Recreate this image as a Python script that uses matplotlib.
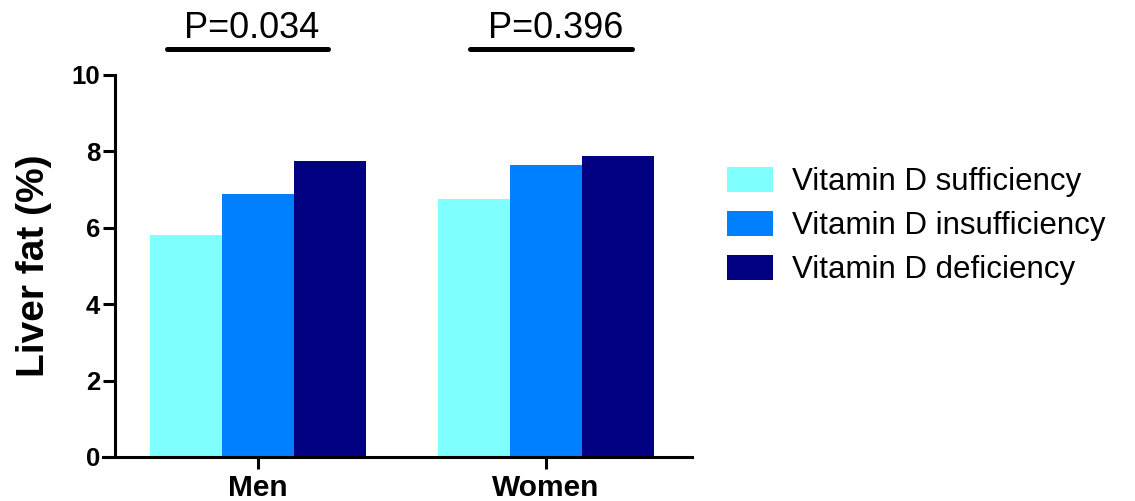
import matplotlib
matplotlib.use("Agg")
import matplotlib.pyplot as plt
import numpy as np
from matplotlib.patches import Patch

plt.rcParams['font.family'] = ['Liberation Sans', 'DejaVu Sans']

groups = ["Men", "Women"]
series = ["Vitamin D sufficiency", "Vitamin D insufficiency", "Vitamin D deficiency"]
sufficiency = [5.81, 6.75]
insufficiency = [6.88, 7.64]
deficiency = [7.76, 7.87]
p_values = ["P=0.034", "P=0.396"]
colors = ["#80FFFF", "#0080FF", "#000080"]

fig = plt.figure(figsize=(11.35, 5.01), dpi=100)
W, H = 1135, 501
ax = fig.add_axes([103 / W, (H - 457) / H, (692 - 103) / W, (457 - 75) / H])

x = np.arange(len(groups))
width = 0.25
for i, (vals, c, lab) in enumerate(zip([sufficiency, insufficiency, deficiency], colors, series)):
    ax.bar(x + (i - 1) * width, vals, width=width, color=c, label=lab, linewidth=0)

ax.set_xlim(-0.538, 1.507)
ax.set_ylim(0, 10)
ax.spines['top'].set_visible(False)
ax.spines['right'].set_visible(False)
ax.spines['left'].set_position(('data', -0.4965))
for s in ['left', 'bottom']:
    ax.spines[s].set_linewidth(2.2)
ax.set_yticks([0, 2, 4, 6, 8, 10])
ax.set_xticks(x)
ax.set_xticklabels(groups, fontsize=21.5, fontweight='bold')
ax.tick_params(axis='y', length=8.6, width=2.2, labelsize=18.5, pad=2)
ax.tick_params(axis='x', length=8.6, width=2.2, pad=4)
for t in ax.get_yticklabels():
    t.set_fontweight('bold')
ax.set_ylabel("Liver fat (%)", fontsize=28, fontweight='bold', labelpad=14)

# significance lines
line_spans = [(-0.316, 0.243), (0.736, 1.299)]
for (a, b), p, xc in zip(line_spans, p_values, x):
    ax.plot([a, b], [10.68, 10.68], color='black', lw=3.6, solid_capstyle='round', clip_on=False)
    ax.text((a + b) / 2 + 0.015, 10.97, p, ha='center', va='baseline', fontsize=26, clip_on=False)

handles = [Patch(facecolor=c, edgecolor='none') for c in colors]
fig.legend(handles, series, loc='upper left', bbox_to_anchor=(727 / W, 1 - 167 / H),
           frameon=False, fontsize=22.5, handlelength=1.47, handleheight=0.83,
           handletextpad=0.6, labelspacing=0.45, borderaxespad=0, borderpad=0)

fig.savefig("out.png", dpi=100)
